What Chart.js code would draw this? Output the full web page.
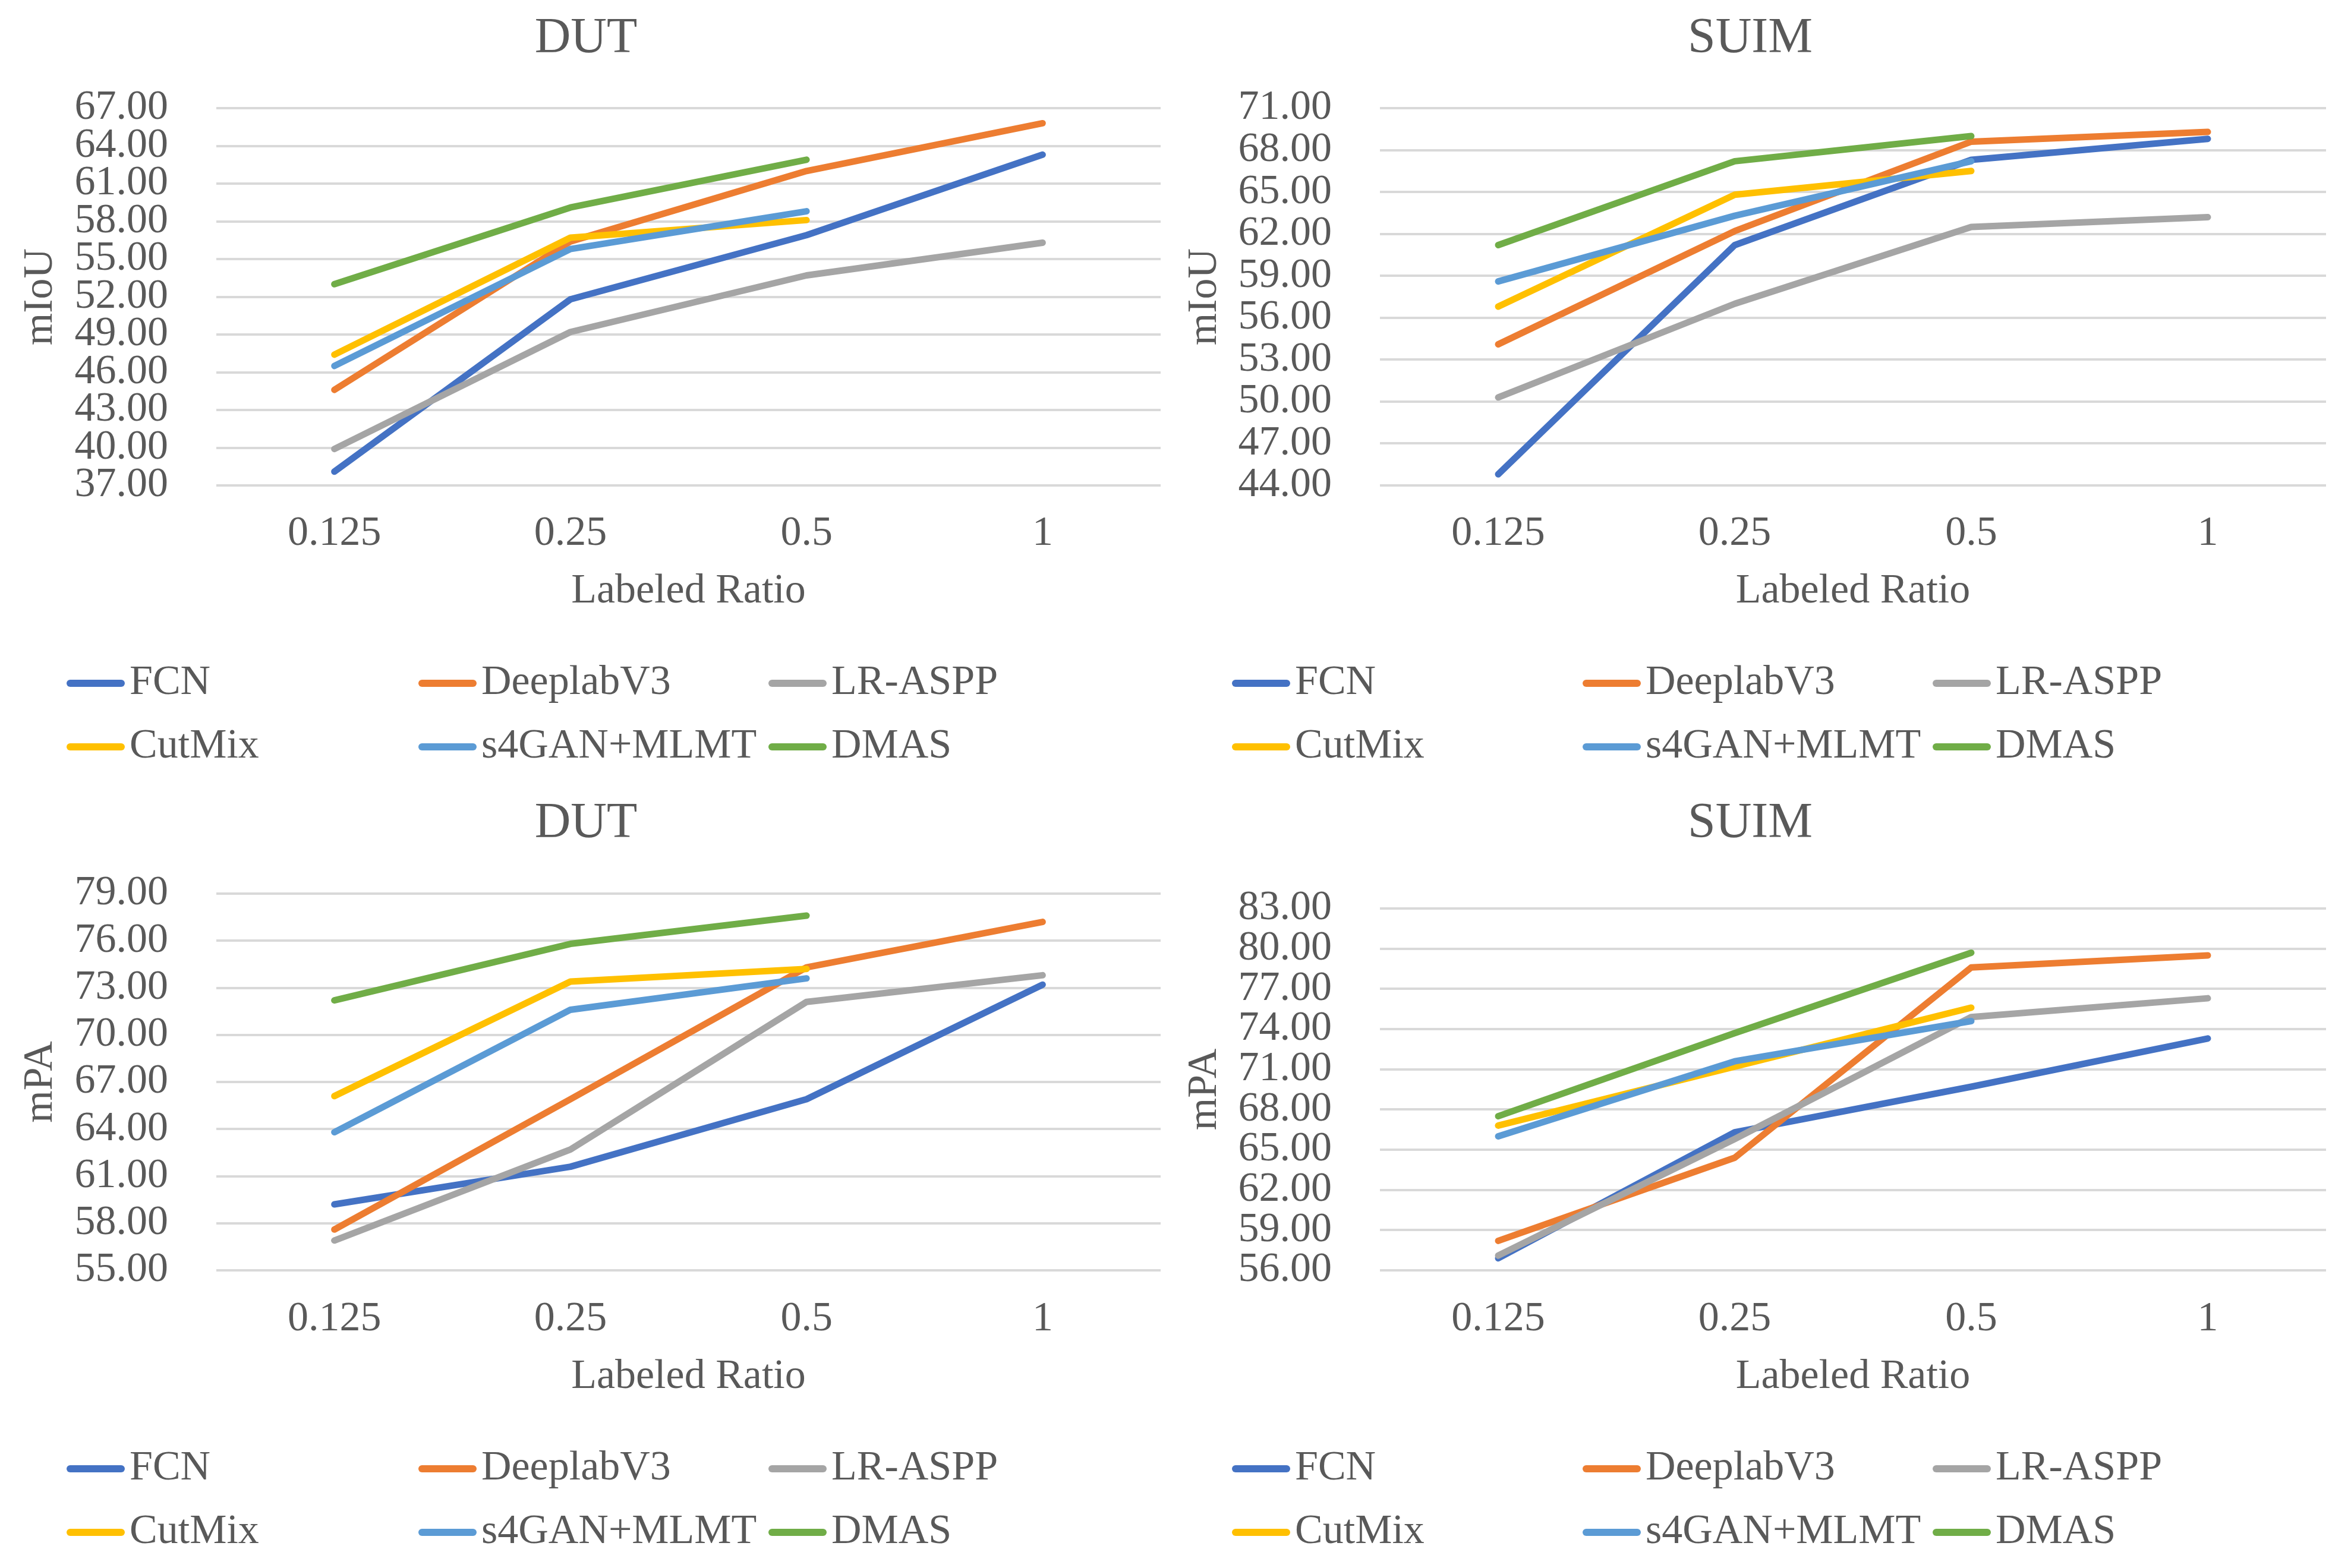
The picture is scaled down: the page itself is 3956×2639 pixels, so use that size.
<!DOCTYPE html>
<html>
<head>
<meta charset="utf-8">
<script src="https://cdn.jsdelivr.net/npm/chart.js@4.4.1/dist/chart.umd.min.js"></script>
<style>
  html, body { margin: 0; padding: 0; background: #ffffff; }
  body { width: 3956px; height: 2639px; position: relative; overflow: hidden; }
  canvas { position: absolute; }
</style>
</head>
<body>
<canvas id="c1" width="1978" height="1320" style="left:0px;top:0px;width:1978px;height:1320px"></canvas>
<canvas id="c2" width="1978" height="1320" style="left:1978px;top:0px;width:1978px;height:1320px"></canvas>
<canvas id="c3" width="1978" height="1319" style="left:0px;top:1320px;width:1978px;height:1319px"></canvas>
<canvas id="c4" width="1978" height="1319" style="left:1978px;top:1320px;width:1978px;height:1319px"></canvas>
<script>
// ---------- data ----------
const labeledRatios = ['0.125', '0.25', '0.5', '1'];
const methodNames = ['FCN', 'DeeplabV3', 'LR-ASPP', 'CutMix', 's4GAN+MLMT', 'DMAS'];
const methodColors = ['#4472C4', '#ED7D31', '#A5A5A5', '#FFC000', '#5B9BD5', '#70AD47'];

// DUT - mIoU
const dutMiouFCN      = [38.1, 51.8, 56.9, 63.3];
const dutMiouDeeplab  = [44.6, 56.4, 62.0, 65.8];
const dutMiouLRASPP   = [39.9, 49.2, 53.7, 56.3];
const dutMiouCutMix   = [47.4, 56.7, 58.1, null];
const dutMiouS4GAN    = [46.5, 55.8, 58.8, null];
const dutMiouDMAS     = [53.0, 59.1, 62.9, null];

// SUIM - mIoU
const suimMiouFCN     = [44.8, 61.2, 67.3, 68.8];
const suimMiouDeeplab = [54.1, 62.2, 68.6, 69.3];
const suimMiouLRASPP  = [50.3, 57.0, 62.5, 63.2];
const suimMiouCutMix  = [56.8, 64.8, 66.5, null];
const suimMiouS4GAN   = [58.6, 63.3, 67.2, null];
const suimMiouDMAS    = [61.2, 67.2, 69.0, null];

// DUT - mPA
const dutMpaFCN       = [59.2, 61.6, 65.9, 73.2];
const dutMpaDeeplab   = [57.6, 65.9, 74.3, 77.2];
const dutMpaLRASPP    = [56.9, 62.7, 72.1, 73.8];
const dutMpaCutMix    = [66.1, 73.4, 74.2, null];
const dutMpaS4GAN     = [63.8, 71.6, 73.6, null];
const dutMpaDMAS      = [72.2, 75.8, 77.6, null];

// SUIM - mPA
const suimMpaFCN      = [56.9, 66.3, 69.7, 73.3];
const suimMpaDeeplab  = [58.2, 64.4, 78.6, 79.5];
const suimMpaLRASPP   = [57.1, 65.8, 74.9, 76.3];
const suimMpaCutMix   = [66.8, 71.2, 75.6, null];
const suimMpaS4GAN    = [66.0, 71.6, 74.6, null];
const suimMpaDMAS     = [67.5, 73.7, 79.7, null];

// axis ranges [min, max, step]
const dutMiouAxis  = [37, 67, 3];
const suimMiouAxis = [44, 71, 3];
const dutMpaAxis   = [55, 79, 3];
const suimMpaAxis  = [56, 83, 3];

// ---------- helpers ----------
const FONT = '"Liberation Serif", "Times New Roman", serif';
const TEXT = '#595959';

const decorPlugin = {
  id: 'decor',
  afterDraw(chart, args, o) {
    const ctx = chart.ctx;
    ctx.save();
    ctx.fillStyle = TEXT;
    ctx.font = o.titleSize + 'px ' + FONT;
    ctx.textAlign = 'center';
    ctx.textBaseline = 'middle';
    ctx.fillText(o.title, o.titleX, o.titleY);
    ctx.font = '70px ' + FONT;
    ctx.textAlign = 'left';
    chart.data.datasets.forEach((ds, i) => {
      const col = i % 3, row = Math.floor(i / 3);
      const x0 = o.legendX[col], y = o.legendY[row];
      ctx.strokeStyle = ds.borderColor;
      ctx.lineWidth = 12;
      ctx.lineCap = 'round';
      ctx.beginPath();
      ctx.moveTo(x0 + 6, y);
      ctx.lineTo(x0 + 92, y);
      ctx.stroke();
      ctx.fillStyle = TEXT;
      ctx.fillText(ds.label, x0 + 106, y);
    });
    ctx.restore();
  }
};

function makeChart(id, cfg) {
  const canvas = document.getElementById(id);
  const H = canvas.height, W = canvas.width;
  const series = cfg.series;
  const xAxisH = cfg.xTitleCenter - cfg.plotBottom + 42;
  const datasets = series.map((vals, i) => ({
    label: methodNames[i],
    data: vals,
    borderColor: methodColors[i],
    backgroundColor: methodColors[i],
    borderWidth: 11,
    pointRadius: 0,
    pointHoverRadius: 0,
    tension: 0,
    fill: false,
    borderCapStyle: 'round',
    borderJoinStyle: 'round',
    order: series.length - i
  }));
  return new Chart(canvas, {
    type: 'line',
    data: { labels: labeledRatios, datasets },
    plugins: [decorPlugin],
    options: {
      responsive: false,
      animation: false,
      devicePixelRatio: 1,
      events: [],
      layout: {
        padding: {
          left: 0,
          top: cfg.plotTop,
          right: W - cfg.plotRight,
          bottom: H - cfg.plotBottom - xAxisH
        }
      },
      plugins: {
        legend: { display: false },
        title: { display: false },
        tooltip: { enabled: false },
        decor: {
          title: cfg.title, titleSize: 84, titleX: cfg.titleX, titleY: cfg.titleY,
          legendX: cfg.legendX, legendY: cfg.legendY
        }
      },
      scales: {
        x: {
          type: 'category',
          offset: true,
          grid: { display: false, drawTicks: false },
          border: { display: false },
          ticks: {
            color: TEXT,
            font: { family: FONT, size: 70 },
            padding: cfg.xTickCenter - cfg.plotBottom - 42,
            maxRotation: 0, autoSkip: false
          },
          title: {
            display: true, text: 'Labeled Ratio', color: TEXT,
            font: { family: FONT, size: 70 },
            padding: { top: 0, bottom: 0 }
          },
          afterFit(scale) { scale.height = xAxisH; }
        },
        y: {
          min: cfg.axis[0], max: cfg.axis[1],
          grid: { color: '#D9D9D9', lineWidth: 4, drawTicks: false },
          border: { display: false },
          ticks: {
            stepSize: cfg.axis[2],
            autoSkip: false,
            color: TEXT,
            font: { family: FONT, size: 70 },
            padding: cfg.plotLeft - cfg.yTickRight,
            callback: v => Number(v).toFixed(2)
          },
          title: {
            display: true, text: cfg.yTitle, color: TEXT,
            font: { family: FONT, size: 70 },
            padding: { top: cfg.yTitleX - 42, bottom: 0 }
          },
          afterFit(scale) { scale.width = cfg.plotLeft; }
        }
      }
    }
  });
}

makeChart('c1', {
  title: 'DUT', titleX: 986, titleY: 66, yTitle: 'mIoU', axis: dutMiouAxis,
  series: [dutMiouFCN, dutMiouDeeplab, dutMiouLRASPP, dutMiouCutMix, dutMiouS4GAN, dutMiouDMAS],
  plotTop: 182, plotBottom: 817, plotLeft: 364, plotRight: 1953,
  yTickRight: 283, yTitleX: 69, xTickCenter: 899, xTitleCenter: 996,
  legendX: [112, 704, 1293], legendY: [1150, 1257]
});
makeChart('c2', {
  title: 'SUIM', titleX: 967, titleY: 66, yTitle: 'mIoU', axis: suimMiouAxis,
  series: [suimMiouFCN, suimMiouDeeplab, suimMiouLRASPP, suimMiouCutMix, suimMiouS4GAN, suimMiouDMAS],
  plotTop: 182, plotBottom: 817, plotLeft: 344, plotRight: 1936,
  yTickRight: 263, yTitleX: 50, xTickCenter: 899, xTitleCenter: 996,
  legendX: [95, 685, 1274], legendY: [1150, 1257]
});
makeChart('c3', {
  title: 'DUT', titleX: 986, titleY: 67, yTitle: 'mPA', axis: dutMpaAxis,
  series: [dutMpaFCN, dutMpaDeeplab, dutMpaLRASPP, dutMpaCutMix, dutMpaS4GAN, dutMpaDMAS],
  plotTop: 184, plotBottom: 818, plotLeft: 364, plotRight: 1953,
  yTickRight: 283, yTitleX: 69, xTickCenter: 901, xTitleCenter: 998,
  legendX: [112, 704, 1293], legendY: [1152, 1259]
});
makeChart('c4', {
  title: 'SUIM', titleX: 967, titleY: 67, yTitle: 'mPA', axis: suimMpaAxis,
  series: [suimMpaFCN, suimMpaDeeplab, suimMpaLRASPP, suimMpaCutMix, suimMpaS4GAN, suimMpaDMAS],
  plotTop: 209, plotBottom: 818, plotLeft: 344, plotRight: 1936,
  yTickRight: 263, yTitleX: 50, xTickCenter: 901, xTitleCenter: 998,
  legendX: [95, 685, 1274], legendY: [1152, 1259]
});
</script>
</body>
</html>
